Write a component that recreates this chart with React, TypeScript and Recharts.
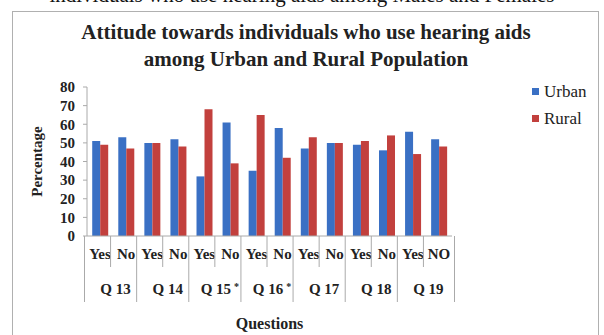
import React from "react";
import { BarChart, Bar, XAxis, YAxis, Legend, Label } from "recharts";

const questions = ["Q 13", "Q 14", "Q 15", "Q 16", "Q 17", "Q 18", "Q 19"];
const starred = [false, false, true, true, false, false, false];
const answers = ["Yes", "No", "Yes", "No", "Yes", "No", "Yes", "No", "Yes", "No", "Yes", "No", "Yes", "NO"];
const urban = [51, 53, 50, 52, 32, 61, 35, 58, 47, 50, 49, 46, 56, 52];
const rural = [49, 47, 50, 48, 68, 39, 65, 42, 53, 50, 51, 54, 44, 48];
const yTicks = [0, 10, 20, 30, 40, 50, 60, 70, 80];

const data = answers.map((a, i) => ({
  answer: a,
  q: questions[Math.floor(i / 2)],
  urban: urban[i],
  rural: rural[i],
}));

const serif = "'Liberation Serif', 'Times New Roman', serif";
const BLUE = "#3a70c4";
const RED = "#c2403d";
const band = (604 - 87 - 82) / answers.length;

const XTick = (props: any) => {
  const { x, y, payload, index } = props;
  const gi = Math.floor(index / 2);
  const first = index % 2 === 0;
  return (
    <g>
      <line x1={x - band / 2} x2={x - band / 2} y1={y} y2={first ? y + 66 : y + 31} stroke="#aaa" />
      {index === answers.length - 1 && (
        <line x1={x + band / 2} x2={x + band / 2} y1={y} y2={y + 66} stroke="#aaa" />
      )}
      <text x={x} y={y + 23} textAnchor="middle" fontFamily={serif} fontWeight="bold" fontSize={15} fill="#222">
        {payload.value}
      </text>
      {first && (
        <text x={x + band / 2} y={y + 58} textAnchor="middle" fontFamily={serif} fontWeight="bold" fontSize={15} fill="#222">
          {questions[gi]}
          {starred[gi] && (
            <tspan fontSize={10} dx={3} dy={-4}>*</tspan>
          )}
        </text>
      )}
    </g>
  );
};

const LegendBox = () => (
  <div style={{ fontFamily: serif, fontSize: 17, color: "#222" }}>
    {[
      ["Urban", BLUE],
      ["Rural", RED],
    ].map(([name, color]) => (
      <div key={name} style={{ display: "flex", alignItems: "center", height: 27 }}>
        <span style={{ width: 7, height: 7, background: color, marginRight: 5, display: "inline-block" }} />
        {name}
      </div>
    ))}
  </div>
);

export default function App() {
  return (
    <div style={{ position: "absolute", left: 0, top: 0, width: 604, height: 335, background: "#fff", overflow: "hidden" }}>
      <div
        style={{
          position: "absolute",
          left: 0,
          top: -17,
          width: 604,
          textAlign: "center",
          fontFamily: serif,
          fontSize: 21,
          color: "#111",
          whiteSpace: "nowrap",
        }}
      >
        individuals who use hearing aids among Males and Females
      </div>
      <div
        style={{
          position: "absolute",
          left: 12,
          top: 11,
          width: 585,
          height: 340,
          border: "1px solid #b0b0b0",
        }}
      />
      <div
        style={{
          position: "absolute",
          left: 0,
          top: 19,
          width: 612,
          textAlign: "center",
          fontFamily: serif,
          fontWeight: "bold",
          fontSize: 21,
          lineHeight: "27px",
          color: "#222",
        }}
      >
        Attitude towards individuals who use hearing aids
        <br />
        among Urban and Rural Population
      </div>
      <BarChart
        width={604}
        height={335}
        data={data}
        margin={{ top: 87, right: 82, left: 37, bottom: 0 }}
        barCategoryGap="20%"
        barGap={0}
        style={{ position: "absolute", left: 0, top: 0 }}
      >
        <XAxis
          dataKey="answer"
          interval={0}
          height={99}
          tickSize={0}
          tickMargin={0}
          axisLine={{ stroke: "#aaa" }}
          tickLine={false}
          tick={<XTick />}
        >
          <Label
            value="Questions"
            position="insideBottom"
            offset={6}
            style={{ fontFamily: serif, fontWeight: "bold", fontSize: 16, fill: "#222" }}
          />
        </XAxis>
        <YAxis
          width={50}
          domain={[0, 80]}
          ticks={yTicks}
          interval={0}
          axisLine={{ stroke: "#aaa" }}
          tickLine={{ stroke: "#aaa" }}
          tickSize={4}
          tickMargin={8}
          tick={{ fontFamily: serif, fontWeight: "bold", fontSize: 15, fill: "#222" }}
        >
          <Label
            value="Percentage"
            angle={-90}
            position="insideLeft"
            offset={0}
            style={{ fontFamily: serif, fontWeight: "bold", fontSize: 15, fill: "#222", textAnchor: "middle" }}
          />
        </YAxis>
        <Legend
          layout="vertical"
          verticalAlign="top"
          align="right"
          content={<LegendBox />}
          wrapperStyle={{ left: 532, top: 78, width: 70 }}
        />
        <Bar dataKey="urban" name="Urban" fill={BLUE} isAnimationActive={false} />
        <Bar dataKey="rural" name="Rural" fill={RED} isAnimationActive={false} />
      </BarChart>
    </div>
  );
}
